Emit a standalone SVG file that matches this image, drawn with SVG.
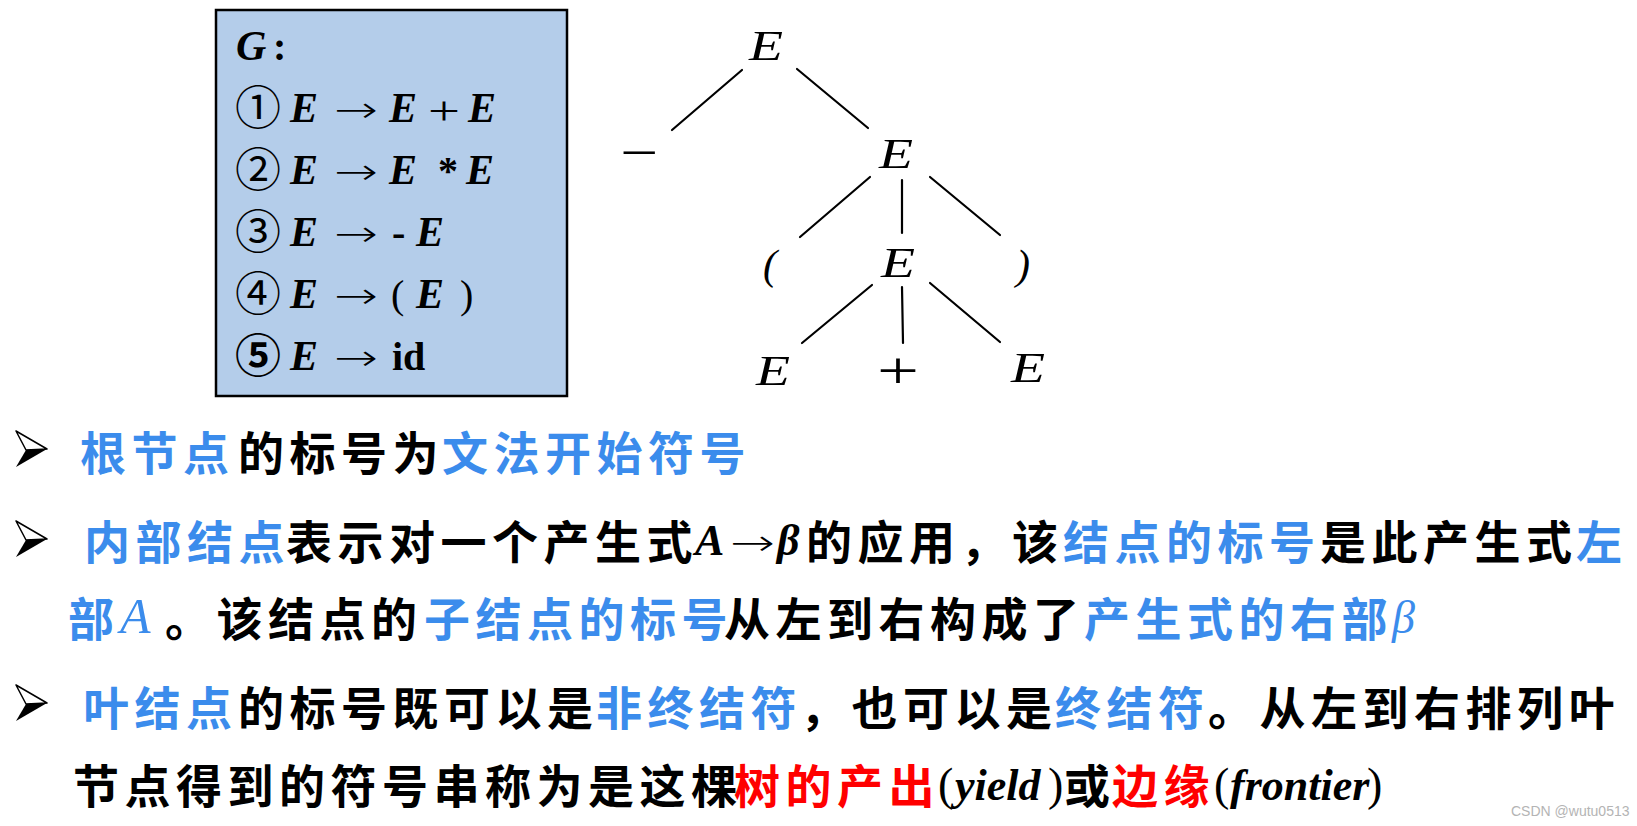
<svg xmlns="http://www.w3.org/2000/svg" width="1637" height="826" viewBox="0 0 1637 826">
<style>
.cj{font-family:"Noto Sans CJK SC",sans-serif;font-size:46px;font-weight:700;letter-spacing:5.5px}
.b{fill:#3b8cec}
.k{fill:#000}
.r{fill:#ff0000}
.bi{font-family:"Liberation Serif",serif;font-weight:700;font-style:italic;font-size:42px;fill:#000}
.num{font-family:"Noto Sans CJK SC",sans-serif;font-size:46px;fill:#000}
.rm{font-family:"Liberation Serif",serif;font-size:40px;fill:#000}
.rb{font-family:"Liberation Serif",serif;font-size:40px;font-weight:700;fill:#000}
.arr{font-family:"DejaVu Sans",sans-serif;font-size:36px;font-weight:200;fill:#000}
.tr{font-family:"Liberation Serif",serif;font-style:italic;font-size:42px;fill:#000}
.ts{font-family:"Liberation Serif",serif;font-size:52px;fill:#000}
.edge{stroke:#000;stroke-width:2.2;fill:none;stroke-linecap:round}
.lat{font-family:"Liberation Serif",serif;font-weight:700;font-style:italic;font-size:44px}
.par{font-family:"Liberation Serif",serif;font-size:46px}
.wm{font-family:"Liberation Sans",sans-serif;font-size:14px;fill:#b4b4b4}
</style>
<defs>
<g id="bullet">
<polygon points="0,0 31,18 10,19" fill="#fff" stroke="#000" stroke-width="1.5" stroke-linejoin="round"/>
<polygon points="10,19 31,18 0,36" fill="#000"/>
</g>
</defs>
<rect width="1637" height="826" fill="#fff"/>

<g id="grammar">
<rect x="216" y="10" width="351" height="386" fill="#b4cdea" stroke="#000" stroke-width="2.5"/>
<text class="bi" x="236" y="60">G</text><text class="rb" x="273" y="60">:</text>
<text class="num" x="235" y="124">①</text>
<text class="bi" x="290" y="122">E</text>
<text class="arr" x="334" y="122" textLength="44" lengthAdjust="spacingAndGlyphs">→</text>
<text class="bi" x="389" y="122">E</text>
<text class="rm" x="428" y="124" font-size="54" textLength="32" lengthAdjust="spacingAndGlyphs">+</text>
<text class="bi" x="468" y="122">E</text>

<text class="num" x="235" y="186">②</text>
<text class="bi" x="290" y="184">E</text>
<text class="arr" x="334" y="184" textLength="44" lengthAdjust="spacingAndGlyphs">→</text>
<text class="bi" x="389" y="184">E</text>
<text class="rb" x="438" y="184" font-size="44">*</text>
<text class="bi" x="466" y="184">E</text>

<text class="num" x="235" y="248">③</text>
<text class="bi" x="290" y="246">E</text>
<text class="arr" x="334" y="246" textLength="44" lengthAdjust="spacingAndGlyphs">→</text>
<text class="rb" x="392" y="246">-</text>
<text class="bi" x="416" y="246">E</text>

<text class="num" x="235" y="310">④</text>
<text class="bi" x="290" y="308">E</text>
<text class="arr" x="334" y="308" textLength="44" lengthAdjust="spacingAndGlyphs">→</text>
<text class="rm" x="391" y="308" font-size="42">(</text>
<text class="bi" x="416" y="308">E</text>
<text class="rm" x="460" y="308" font-size="42">)</text>

<text class="num" x="235" y="372" font-weight="700">⑤</text>
<text class="bi" x="290" y="370">E</text>
<text class="arr" x="334" y="370" textLength="44" lengthAdjust="spacingAndGlyphs">→</text>
<text class="rb" x="392" y="370" font-size="42">id</text>
</g>

<g id="connectors">
<line class="edge" x1="742" y1="70" x2="672" y2="130"/>
<line class="edge" x1="797" y1="69" x2="868" y2="128"/>
<line class="edge" x1="870" y1="177" x2="800" y2="237"/>
<line class="edge" x1="902" y1="180" x2="902" y2="233"/>
<line class="edge" x1="930" y1="177" x2="1000" y2="235"/>
<line class="edge" x1="872" y1="285" x2="802" y2="343"/>
<line class="edge" x1="902" y1="287" x2="903" y2="343"/>
<line class="edge" x1="930" y1="283" x2="1000" y2="342"/>
</g>

<g id="node-root"><text class="tr" x="749" y="60" textLength="34" lengthAdjust="spacingAndGlyphs">E</text></g>
<g id="node-minus"><text class="ts" x="620" y="170" textLength="38" lengthAdjust="spacingAndGlyphs">−</text></g>
<g id="node-e2"><text class="tr" x="879" y="168" textLength="34" lengthAdjust="spacingAndGlyphs">E</text></g>
<g id="node-lparen"><text class="tr" x="763" y="279" font-style="normal" font-size="46">(</text></g>
<g id="node-e3"><text class="tr" x="881" y="277" textLength="34" lengthAdjust="spacingAndGlyphs">E</text></g>
<g id="node-rparen"><text class="tr" x="1016" y="279" font-style="normal" font-size="46">)</text></g>
<g id="node-e4"><text class="tr" x="756" y="385" textLength="34" lengthAdjust="spacingAndGlyphs">E</text></g>
<g id="node-plus"><text class="ts" x="877" y="388" textLength="42" lengthAdjust="spacingAndGlyphs">+</text></g>
<g id="node-e5"><text class="tr" x="1011" y="382" textLength="34" lengthAdjust="spacingAndGlyphs">E</text></g>

<g id="line1">
<use href="#bullet" x="16" y="431"/>
<text class="cj b" x="80" y="470">根节点</text>
<text class="cj k" x="238" y="470">的标号为</text>
<text class="cj b" x="442" y="470">文法开始符号</text>
</g>

<g id="line2">
<use href="#bullet" x="16" y="521"/>
<text class="cj b" x="84" y="559">内部结点</text>
<text class="cj k" x="286" y="559">表示对一个产生式</text>
<text class="lat k" x="695" y="555">A</text>
<text class="arr" x="730" y="555" textLength="45" lengthAdjust="spacingAndGlyphs">→</text>
<text class="lat k" x="777" y="555" font-size="46">β</text>
<text class="cj k" x="806" y="559">的应用，该</text>
<text class="cj b" x="1063" y="559">结点的标号</text>
<text class="cj k" x="1320" y="559">是此产生式</text>
<text class="cj b" x="1576" y="559">左</text>
</g>

<g id="line3">
<text class="cj b" x="68" y="636">部</text>
<text class="b" x="120" y="633" font-family="Liberation Serif, serif" font-style="italic" font-size="50">A</text>
<text class="cj k" x="165" y="636">。该结点的</text>
<text class="cj b" x="424" y="636">子结点的标号</text>
<text class="cj k" x="724" y="636">从左到右构成了</text>
<text class="cj b" x="1084" y="636">产生式的右部</text>
<text class="b" x="1392" y="633" font-family="Liberation Serif, serif" font-style="italic" font-size="46">β</text>
</g>

<g id="line4">
<use href="#bullet" x="16" y="685"/>
<text class="cj b" x="83" y="725">叶结点</text>
<text class="cj k" x="238" y="725">的标号既可以是</text>
<text class="cj b" x="596" y="725">非终结符</text>
<text class="cj k" x="800" y="725">，也可以是</text>
<text class="cj b" x="1055" y="725">终结符</text>
<text class="cj k" x="1208" y="725">。从左到右排列叶</text>
</g>

<g id="line5">
<text class="cj k" x="73" y="803">节点得到的符号串称为是这棵</text>
<text class="cj r" x="734" y="803">树的产出</text>
<text class="par k" x="938" y="800">(</text>
<text class="lat k" x="955" y="800">yield</text>
<text class="par k" x="1048" y="800">)</text>
<text class="cj k" x="1064" y="803">或</text>
<text class="cj r" x="1112" y="803" letter-spacing="3">边缘</text>
<text class="par k" x="1214" y="800">(</text>
<text class="lat k" x="1230" y="800" font-size="41">frontier</text>
<text class="par k" x="1367" y="800">)</text>
</g>

<text class="wm" x="1511" y="816">CSDN @wutu0513</text>
</svg>
